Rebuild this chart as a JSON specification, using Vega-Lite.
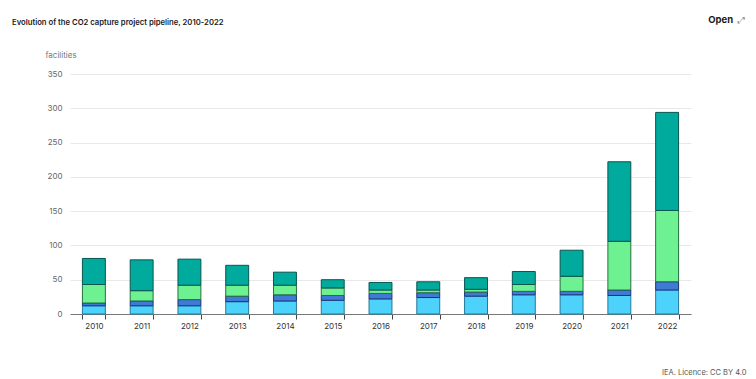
{
  "$schema": "https://vega.github.io/schema/vega-lite/v6.json",
  "width": 621,
  "height": 240,
  "autosize": {"type": "none"},
  "padding": {"left": 70, "top": 74, "right": 65, "bottom": 65},
  "background": "#ffffff",
  "config": {
    "font": "Inter",
    "view": {"stroke": null}
  },
  "title": {
    "text": "Evolution of the CO2 capture project pipeline, 2010-2022",
    "anchor": "start",
    "frame": "group",
    "dx": -58,
    "dy": 16,
    "fontSize": 7.7,
    "fontWeight": 600,
    "color": "#1a1a1a",
    "font": "Inter"
  },
  "datasets": {
    "pipeline": [
      {"year": "2010", "stage": "Operational", "o": 1, "facilities": 12},
      {"year": "2010", "stage": "Under construction", "o": 2, "facilities": 4},
      {"year": "2010", "stage": "Advanced development", "o": 3, "facilities": 27},
      {"year": "2010", "stage": "Early development", "o": 4, "facilities": 38},
      {"year": "2011", "stage": "Operational", "o": 1, "facilities": 12},
      {"year": "2011", "stage": "Under construction", "o": 2, "facilities": 7},
      {"year": "2011", "stage": "Advanced development", "o": 3, "facilities": 15},
      {"year": "2011", "stage": "Early development", "o": 4, "facilities": 45},
      {"year": "2012", "stage": "Operational", "o": 1, "facilities": 12},
      {"year": "2012", "stage": "Under construction", "o": 2, "facilities": 9},
      {"year": "2012", "stage": "Advanced development", "o": 3, "facilities": 21},
      {"year": "2012", "stage": "Early development", "o": 4, "facilities": 38},
      {"year": "2013", "stage": "Operational", "o": 1, "facilities": 18},
      {"year": "2013", "stage": "Under construction", "o": 2, "facilities": 8},
      {"year": "2013", "stage": "Advanced development", "o": 3, "facilities": 16},
      {"year": "2013", "stage": "Early development", "o": 4, "facilities": 29},
      {"year": "2014", "stage": "Operational", "o": 1, "facilities": 19},
      {"year": "2014", "stage": "Under construction", "o": 2, "facilities": 9},
      {"year": "2014", "stage": "Advanced development", "o": 3, "facilities": 14},
      {"year": "2014", "stage": "Early development", "o": 4, "facilities": 19},
      {"year": "2015", "stage": "Operational", "o": 1, "facilities": 20},
      {"year": "2015", "stage": "Under construction", "o": 2, "facilities": 7},
      {"year": "2015", "stage": "Advanced development", "o": 3, "facilities": 11},
      {"year": "2015", "stage": "Early development", "o": 4, "facilities": 12},
      {"year": "2016", "stage": "Operational", "o": 1, "facilities": 22},
      {"year": "2016", "stage": "Under construction", "o": 2, "facilities": 8},
      {"year": "2016", "stage": "Advanced development", "o": 3, "facilities": 5},
      {"year": "2016", "stage": "Early development", "o": 4, "facilities": 11},
      {"year": "2017", "stage": "Operational", "o": 1, "facilities": 24},
      {"year": "2017", "stage": "Under construction", "o": 2, "facilities": 7},
      {"year": "2017", "stage": "Advanced development", "o": 3, "facilities": 4},
      {"year": "2017", "stage": "Early development", "o": 4, "facilities": 12},
      {"year": "2018", "stage": "Operational", "o": 1, "facilities": 26},
      {"year": "2018", "stage": "Under construction", "o": 2, "facilities": 6},
      {"year": "2018", "stage": "Advanced development", "o": 3, "facilities": 4},
      {"year": "2018", "stage": "Early development", "o": 4, "facilities": 17},
      {"year": "2019", "stage": "Operational", "o": 1, "facilities": 28},
      {"year": "2019", "stage": "Under construction", "o": 2, "facilities": 5},
      {"year": "2019", "stage": "Advanced development", "o": 3, "facilities": 10},
      {"year": "2019", "stage": "Early development", "o": 4, "facilities": 19},
      {"year": "2020", "stage": "Operational", "o": 1, "facilities": 28},
      {"year": "2020", "stage": "Under construction", "o": 2, "facilities": 5},
      {"year": "2020", "stage": "Advanced development", "o": 3, "facilities": 22},
      {"year": "2020", "stage": "Early development", "o": 4, "facilities": 38},
      {"year": "2021", "stage": "Operational", "o": 1, "facilities": 27},
      {"year": "2021", "stage": "Under construction", "o": 2, "facilities": 8},
      {"year": "2021", "stage": "Advanced development", "o": 3, "facilities": 71},
      {"year": "2021", "stage": "Early development", "o": 4, "facilities": 116},
      {"year": "2022", "stage": "Operational", "o": 1, "facilities": 35},
      {"year": "2022", "stage": "Under construction", "o": 2, "facilities": 12},
      {"year": "2022", "stage": "Advanced development", "o": 3, "facilities": 104},
      {"year": "2022", "stage": "Early development", "o": 4, "facilities": 143}
    ]
  },
  "layer": [
    {
      "data": {"name": "pipeline"},
      "mark": {"type": "bar", "strokeWidth": 1},
      "encoding": {
        "x": {
          "field": "year",
          "type": "nominal",
          "sort": null,
          "scale": {"paddingInner": 0.52, "paddingOuter": 0.26},
          "axis": {
            "title": "IEA. Licence: CC BY 4.0",
            "titleAnchor": "end",
            "titleAlign": "right",
            "titleBaseline": "alphabetic",
            "titleX": 676,
            "titleY": 60,
            "titleFontSize": 7.5,
            "titleFontWeight": "normal",
            "titleColor": "#555555",
            "labelAngle": 0,
            "labelFontSize": 8,
            "labelColor": "#333333",
            "labelPadding": 3,
            "domainColor": "#777777",
            "tickColor": "#444444",
            "tickSize": 5,
            "tickBand": "extent",
            "grid": false
          }
        },
        "y": {
          "field": "facilities",
          "type": "quantitative",
          "aggregate": "sum",
          "stack": "zero",
          "scale": {"domain": [0, 350], "nice": false},
          "axis": {
            "title": "facilities",
            "titleAngle": 0,
            "titleAlign": "left",
            "titleBaseline": "alphabetic",
            "titleX": -25,
            "titleY": -17,
            "titleFontSize": 8,
            "titleFontWeight": "normal",
            "titleColor": "#777777",
            "values": [0, 50, 100, 150, 200, 250, 300, 350],
            "labelFontSize": 8,
            "labelColor": "#666666",
            "labelPadding": 8,
            "domain": false,
            "ticks": false,
            "gridColor": "#e8e8e8",
            "gridWidth": 1
          }
        },
        "color": {
          "field": "stage",
          "type": "nominal",
          "scale": {
            "domain": ["Operational", "Under construction", "Advanced development", "Early development"],
            "range": ["#4dd2fc", "#3f7ad6", "#6ef291", "#00aa9d"]
          },
          "legend": null
        },
        "stroke": {
          "field": "stage",
          "type": "nominal",
          "scale": {
            "domain": ["Operational", "Under construction", "Advanced development", "Early development"],
            "range": ["#247a99", "#1c347a", "#257040", "#0a5550"]
          },
          "legend": null
        },
        "order": {"field": "o", "type": "quantitative"}
      }
    },
    {
      "data": {"values": [{"label": "Open", "icon": "⤢"}]},
      "layer": [
        {
          "mark": {"type": "text", "align": "right", "baseline": "middle", "dx": 66, "fontSize": 9.5, "fontWeight": "bold", "color": "#1a1a1a", "font": "Inter"},
          "encoding": {"text": {"field": "label"}}
        },
        {
          "mark": {"type": "text", "align": "center", "baseline": "middle", "dx": 74, "fontSize": 9, "color": "#888888", "font": "DejaVu Sans"},
          "encoding": {"text": {"field": "icon"}}
        }
      ],
      "encoding": {
        "x": {
          "datum": "2022",
          "axis": {
            "title": "IEA. Licence: CC BY 4.0",
            "titleAnchor": "end",
            "titleAlign": "right",
            "titleBaseline": "alphabetic",
            "titleX": 676,
            "titleY": 60,
            "titleFontSize": 7.5,
            "titleFontWeight": "normal",
            "titleColor": "#555555",
            "labelAngle": 0,
            "labelFontSize": 8,
            "labelColor": "#333333",
            "labelPadding": 3,
            "domainColor": "#777777",
            "tickColor": "#444444",
            "tickSize": 5,
            "tickBand": "extent",
            "grid": false
          }
        },
        "y": {
          "datum": 429,
          "axis": {
            "title": "facilities",
            "titleAngle": 0,
            "titleAlign": "left",
            "titleBaseline": "alphabetic",
            "titleX": -25,
            "titleY": -17,
            "titleFontSize": 8,
            "titleFontWeight": "normal",
            "titleColor": "#777777",
            "values": [0, 50, 100, 150, 200, 250, 300, 350],
            "labelFontSize": 8,
            "labelColor": "#666666",
            "labelPadding": 8,
            "domain": false,
            "ticks": false,
            "gridColor": "#e8e8e8",
            "gridWidth": 1
          }
        }
      }
    }
  ]
}
